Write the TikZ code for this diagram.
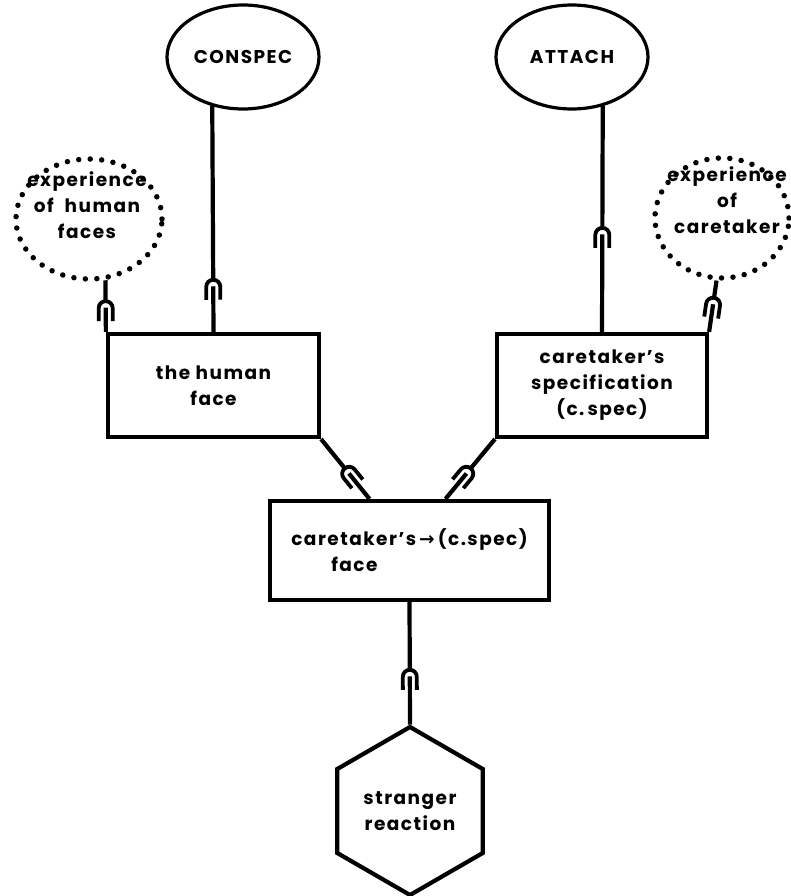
\documentclass[tikz,border=0pt]{standalone}
\usepackage{fontspec}
\setmainfont{Poppins}[UprightFont=* Bold, LetterSpace=8]
\newfontfamily\arrowfont{DejaVu Sans}[UprightFont=* Bold]
\usetikzlibrary{shapes.geometric}
\usetikzlibrary{decorations.markings}
\tikzset{
  box/.style={draw, rectangle, inner sep=0pt},
  oval/.style={draw, ellipse, inner sep=0pt, line width=3.2pt},
  dotty/.style={draw, ellipse, inner sep=0pt, line width=5.5pt, line cap=round, dash pattern=on 0pt off 11.5pt},
  plug/.style={postaction={decorate}, decoration={markings, mark=at position #1 with {
      \fill[white] (-5pt,-2.8pt) rectangle (-0.5pt,2.8pt);
      \draw[line width=3.8pt] (13pt,-7pt) -- (0pt,-7pt) arc[start angle=270, end angle=90, radius=7pt] -- (13pt,7pt);}}},
}

\begin{document}
\begin{tikzpicture}[x=1pt, y=-1pt, line width=4.2pt,
    every node/.style={font=\fontsize{18.5}{26}\selectfont, align=center}]
  \useasboundingbox (0,0) rectangle (790,896);
  % top
  \node[oval, minimum width=152pt, minimum height=104pt] (conspec) at (243,57) {CONSPEC};
  \node[oval, minimum width=152pt, minimum height=104pt] (attach) at (572,57) {ATTACH};
  % experience
  \node[dotty, minimum width=146pt, minimum height=120pt] (expface) at (89,219) {};
  \node (expfacetxt) at (87,205) {experience\\of~~human\\faces};
  \node[dotty, minimum width=134pt, minimum height=120pt] (expcare) at (722,218) {};
  \node (expcaretxt) at (727,200) {experience\\of\\caretaker};
  % boxes
  \node[box, minimum width=211pt, minimum height=103pt] (face) at (213.5,385.5) {the~human\\face};
  \node[box, minimum width=210pt, minimum height=103pt] (cspec) at (602,385.5) {caretaker's\\specification\\(c.\,spec)};
  \node[box, minimum width=279pt, minimum height=99pt, align=left] (cface) at (409.5,550.5)
    {caretaker's\,{\arrowfont→}\,(c.spec)\\\hspace*{40pt}face};
  % output
  \node[draw, regular polygon, regular polygon sides=6, shape border rotate=30,
    minimum size=168pt, inner sep=0pt] (stranger) at (410,811) {stranger\\reaction};
  % plugs
  \draw[plug=.80] (conspec.238) -- (face.north);
  \draw[plug=.57] (attach.302) -- (cspec.north);
  \draw[plug=.54] (expface.285) -- (face.north west);
  \draw[plug=.47] (expcare.265) -- (cspec.north east);
  \draw[plug=.58] (face.south east) -- ([xshift=-40pt]cface.north);
  \draw[plug=.58] (cspec.south west) -- ([xshift=36pt]cface.north);
  \draw[plug=.61] (cface.south) -- (stranger.90);
\end{tikzpicture}
\end{document}
